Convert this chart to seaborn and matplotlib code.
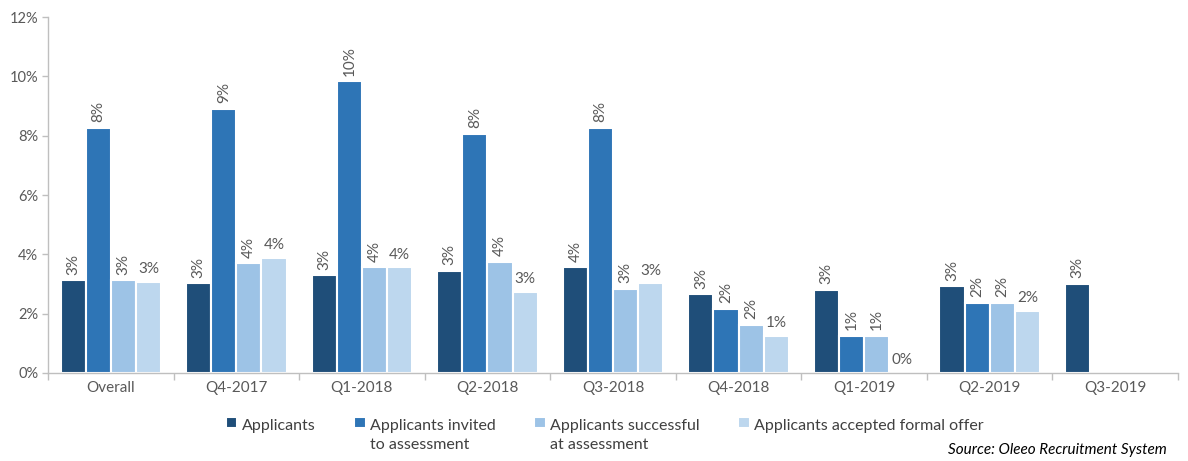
import matplotlib
matplotlib.use("Agg")
import matplotlib.pyplot as plt
import matplotlib.patches as mpatches
import matplotlib.ticker as mticker
from matplotlib.legend_handler import HandlerPatch
import numpy as np
import pandas as pd
import seaborn as sns

periods = ["Overall", "Q4-2017", "Q1-2018", "Q2-2018", "Q3-2018",
           "Q4-2018", "Q1-2019", "Q2-2019", "Q3-2019"]
applicants = [3.13, 3.03, 3.30, 3.44, 3.57, 2.66, 2.80, 2.93, 3.00]
invited = [8.26, 8.90, 9.84, 8.06, 8.26, 2.16, 1.25, 2.36, np.nan]
successful = [3.13, 3.70, 3.57, 3.74, 2.83, 1.62, 1.25, 2.36, np.nan]
accepted = [3.07, 3.88, 3.57, 2.73, 3.03, 1.25, 0.0, 2.09, np.nan]

series_names = ["Applicants", "Applicants invited\nto assessment",
                "Applicants successful\nat assessment", "Applicants accepted formal offer"]
colors = ["#1F4E79", "#2E75B6", "#9DC3E6", "#BDD7EE"]

rows = []
for name, vals in zip(series_names, [applicants, invited, successful, accepted]):
    for p, v in zip(periods, vals):
        rows.append({"period": p, "series": name, "value": v})
df = pd.DataFrame(rows)

sns.set_theme(style="white")
plt.rcParams["font.family"] = ["Lato", "DejaVu Sans"]
text_color = "#595959"

fig = plt.figure(figsize=(11.88, 4.61), dpi=100)
ax = fig.add_axes([0.0404, 0.1909, 0.9512, 0.7722])

sns.barplot(data=df, x="period", y="value", hue="series", hue_order=series_names,
            palette=colors, saturation=1, width=0.8, edgecolor="white", linewidth=1.5,
            errorbar=None, legend=True, ax=ax)

for i, container in enumerate(ax.containers):
    labels = ["" if np.isnan(v) else f"{v:.0f}%" for v in container.datavalues]
    rot = 0 if i == 3 else 90
    ax.bar_label(container, labels=labels, rotation=rot, padding=4,
                 fontsize=11, color=text_color)

ax.set_ylim(0, 12)
ax.set_xlim(-0.5, len(periods) - 0.5)
ax.yaxis.set_major_locator(mticker.MultipleLocator(2))
ax.yaxis.set_major_formatter(mticker.FuncFormatter(lambda v, _: f"{v:.0f}%"))
ax.set_xlabel("")
ax.set_ylabel("")

ax.set_xticks(np.arange(len(periods)))
ax.set_xticklabels(periods)
ax.set_xticks(np.arange(-0.5, len(periods)), minor=True)
ax.tick_params(axis="x", which="major", length=0, labelsize=11, colors=text_color, pad=6)
ax.tick_params(axis="x", which="minor", length=5, width=1, color="#BFBFBF", direction="out", bottom=True)
ax.tick_params(axis="y", length=4, width=1, color="#BFBFBF", left=True, labelsize=10.5,
               colors=text_color, pad=3)

for side in ["top", "right"]:
    ax.spines[side].set_visible(False)
for side in ["left", "bottom"]:
    ax.spines[side].set_color("#BFBFBF")
    ax.spines[side].set_linewidth(1)


# legend squares sit level with the first line of each label
def top_square(legend, orig_handle, xdescent, ydescent, width, height, fontsize):
    return mpatches.Rectangle((-xdescent, -ydescent + 0.78 * fontsize), width, height)


handles, labels = ax.get_legend_handles_labels()
labels = [lab if "\n" in lab else lab + "\n " for lab in labels]
leg = ax.legend(handles, labels, loc="upper center", bbox_to_anchor=(0.493, -0.088),
                ncol=4, frameon=False, fontsize=11.5, handlelength=0.7, handleheight=0.7,
                handletextpad=0.3, columnspacing=2.4, labelcolor="#404040",
                handler_map={mpatches.Rectangle: HandlerPatch(patch_func=top_square)})
for t in leg.get_texts():
    t.set_linespacing(1.45)

fig.text(0.982, 0.008, "Source: Oleeo Recruitment System", ha="right", va="bottom",
         fontsize=11, style="italic", color="#000000")

fig.savefig("out.png", dpi=100)
